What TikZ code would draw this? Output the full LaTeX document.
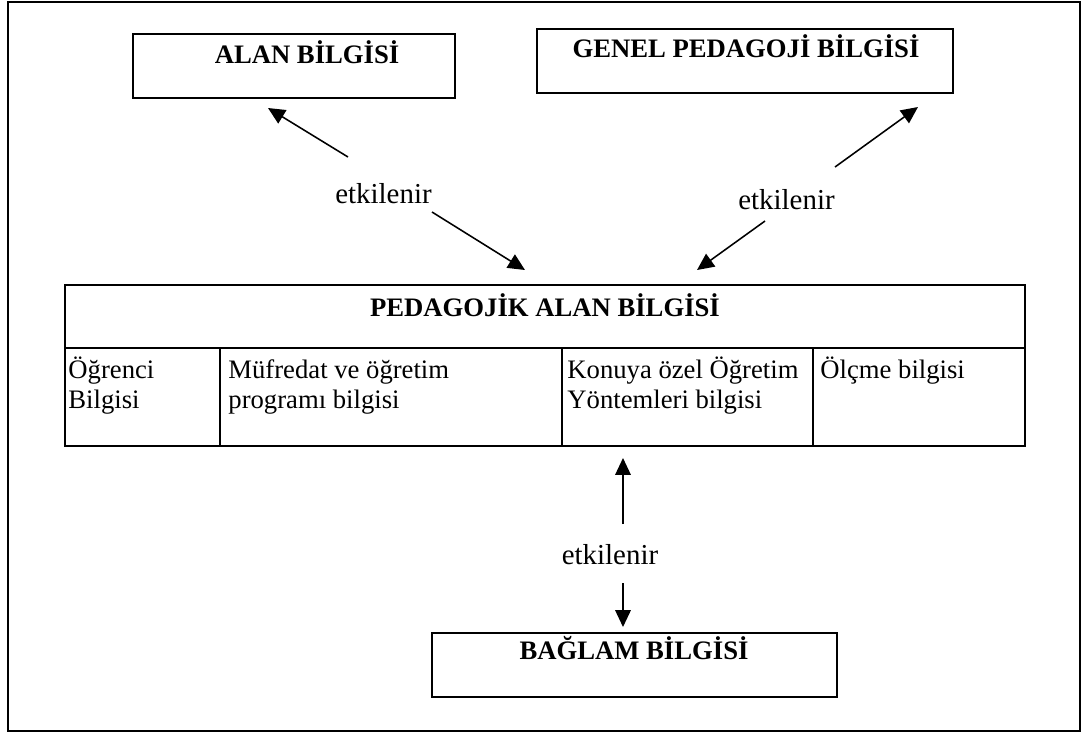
\documentclass[tikz,border=0pt]{standalone}
\usepackage{fontspec}
\setmainfont{Liberation Serif}
\usetikzlibrary{arrows.meta}
\begin{document}
\begin{tikzpicture}[x=0.45pt,y=-0.45pt,
  frame/.style={draw, line width=0.6pt},
  box/.style={draw, line width=0.9pt, inner sep=0pt, outer sep=0pt, anchor=north west},
  rule/.style={line width=0.9pt},
  title/.style={font=\fontsize{12}{14}\selectfont\bfseries, inner sep=0pt},
  cell/.style={font=\fontsize{12}{13.5}\selectfont, inner sep=0pt, anchor=base west},
  lbl/.style={font=\fontsize{13}{15}\selectfont, inner sep=0pt},
  arr/.style={line width=0.7pt, -{Triangle[length=7.6pt,width=7pt]}}]

\useasboundingbox (0,0) rectangle (1086,733);
\draw[frame] (8,2) rectangle (1080,731);

% outer knowledge boxes
\node[box, minimum width=144.9pt, minimum height=28.8pt] (alanbox) at (133,34) {};
\node[title] (alan) at (307,52.5) {ALAN BİLGİSİ};

\node[box, minimum width=187.2pt, minimum height=28.8pt] (genelbox) at (537,29) {};
\node[title] (genel) at (746,46.5) {GENEL PEDAGOJİ BİLGİSİ};

\node[box, minimum width=182.25pt, minimum height=28.8pt] (baglambox) at (432,633) {};
\node[title] (baglam) at (634,648.5) {BAĞLAM BİLGİSİ};

% central table
\node[box, minimum width=432pt, minimum height=72.45pt] (pab) at (65,285) {};
\node[title] (pabtitle) at (545,305) {PEDAGOJİK ALAN BİLGİSİ};
\draw[rule] (65,348) -- (1025,348);
\draw[rule] (220,348) -- (220,446);
\draw[rule] (562,348) -- (562,446);
\draw[rule] (813,348) -- (813,446);

\node[cell] (c1) at (68,378) {\begin{tabular}[t]{@{}l@{}}Öğrenci\\Bilgisi\end{tabular}};
\node[cell] (c2) at (228,378) {\begin{tabular}[t]{@{}l@{}}Müfredat ve öğretim\\programı bilgisi\end{tabular}};
\node[cell] (c3) at (567,378) {\begin{tabular}[t]{@{}l@{}}Konuya özel Öğretim\\Yöntemleri bilgisi\end{tabular}};
\node[cell] (c4) at (820,378) {\begin{tabular}[t]{@{}l@{}}Ölçme bilgisi\end{tabular}};

% influence labels
\node[lbl] (e1) at (383.5,193.5) {etkilenir};
\node[lbl] (e2) at (786.5,200) {etkilenir};
\node[lbl] (e3) at (610,555) {etkilenir};

% arrow end points
\coordinate (a1s) at (348,157); \coordinate (a1e) at (268,108);
\coordinate (a2s) at (432,212); \coordinate (a2e) at (525,270);
\coordinate (a3s) at (765,221); \coordinate (a3e) at (697,270);
\coordinate (a4s) at (835,167); \coordinate (a4e) at (918,107);
\coordinate (a5s) at (623,524); \coordinate (a5e) at (623,458);
\coordinate (a6s) at (623,583); \coordinate (a6e) at (623,627);

\draw[arr] (a1s) -- (a1e);
\draw[arr] (a2s) -- (a2e);
\draw[arr] (a3s) -- (a3e);
\draw[arr] (a4s) -- (a4e);
\draw[arr] (a5s) -- (a5e);
\draw[arr] (a6s) -- (a6e);
\end{tikzpicture}
\end{document}
